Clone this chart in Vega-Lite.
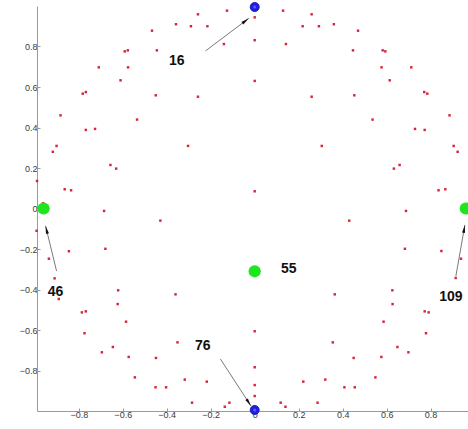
{
  "$schema": "https://vega.github.io/schema/vega-lite/v6.json",
  "width": 431,
  "height": 405,
  "autosize": "none",
  "padding": {"left": 37, "top": 6, "right": 0, "bottom": 18},
  "background": "white",
  "config": {
    "view": {"stroke": null},
    "axis": {
      "grid": false,
      "domainColor": "#9a9a9a",
      "tickColor": "#9a9a9a",
      "tickSize": -3,
      "labelFont": "Liberation Sans",
      "labelFontSize": 9,
      "labelColor": "#3a3a3a",
      "format": "~g",
      "title": null
    }
  },
  "datasets": {
    "nodes": [
      {"x": -0.126, "y": 0.977, "kind": "node"},
      {"x": -0.258, "y": 0.959, "kind": "node"},
      {"x": -0.358, "y": 0.910, "kind": "node"},
      {"x": -0.290, "y": 0.900, "kind": "node"},
      {"x": -0.215, "y": 0.900, "kind": "node"},
      {"x": -0.467, "y": 0.878, "kind": "node"},
      {"x": -0.140, "y": 0.812, "kind": "node"},
      {"x": -0.445, "y": 0.781, "kind": "node"},
      {"x": -0.591, "y": 0.776, "kind": "node"},
      {"x": -0.577, "y": 0.781, "kind": "node"},
      {"x": -0.709, "y": 0.697, "kind": "node"},
      {"x": -0.576, "y": 0.697, "kind": "node"},
      {"x": -0.610, "y": 0.633, "kind": "node"},
      {"x": -0.782, "y": 0.567, "kind": "node"},
      {"x": -0.768, "y": 0.575, "kind": "node"},
      {"x": -0.450, "y": 0.559, "kind": "node"},
      {"x": -0.258, "y": 0.552, "kind": "node"},
      {"x": -0.883, "y": 0.460, "kind": "node"},
      {"x": -0.535, "y": 0.439, "kind": "node"},
      {"x": -0.768, "y": 0.388, "kind": "node"},
      {"x": -0.726, "y": 0.393, "kind": "node"},
      {"x": -0.901, "y": 0.309, "kind": "node"},
      {"x": -0.918, "y": 0.280, "kind": "node"},
      {"x": -0.303, "y": 0.309, "kind": "node"},
      {"x": -0.990, "y": 0.136, "kind": "node"},
      {"x": -0.656, "y": 0.215, "kind": "node"},
      {"x": -0.630, "y": 0.197, "kind": "node"},
      {"x": -0.864, "y": 0.095, "kind": "node"},
      {"x": -0.835, "y": 0.090, "kind": "node"},
      {"x": -0.685, "y": -0.012, "kind": "node"},
      {"x": -0.962, "y": 0.026, "kind": "node"},
      {"x": 0.000, "y": 0.944, "kind": "node"},
      {"x": 0.129, "y": 0.977, "kind": "node"},
      {"x": 0.259, "y": 0.959, "kind": "node"},
      {"x": 0.218, "y": 0.900, "kind": "node"},
      {"x": 0.292, "y": 0.900, "kind": "node"},
      {"x": 0.360, "y": 0.910, "kind": "node"},
      {"x": 0.470, "y": 0.878, "kind": "node"},
      {"x": 0.000, "y": 0.831, "kind": "node"},
      {"x": 0.142, "y": 0.812, "kind": "node"},
      {"x": 0.447, "y": 0.781, "kind": "node"},
      {"x": 0.582, "y": 0.781, "kind": "node"},
      {"x": 0.594, "y": 0.776, "kind": "node"},
      {"x": 0.577, "y": 0.697, "kind": "node"},
      {"x": 0.712, "y": 0.697, "kind": "node"},
      {"x": 0.614, "y": 0.633, "kind": "node"},
      {"x": 0.000, "y": 0.630, "kind": "node"},
      {"x": 0.771, "y": 0.575, "kind": "node"},
      {"x": 0.785, "y": 0.567, "kind": "node"},
      {"x": 0.259, "y": 0.552, "kind": "node"},
      {"x": 0.453, "y": 0.559, "kind": "node"},
      {"x": 0.886, "y": 0.460, "kind": "node"},
      {"x": 0.536, "y": 0.439, "kind": "node"},
      {"x": 0.729, "y": 0.393, "kind": "node"},
      {"x": 0.773, "y": 0.388, "kind": "node"},
      {"x": 0.305, "y": 0.309, "kind": "node"},
      {"x": 0.905, "y": 0.309, "kind": "node"},
      {"x": 0.923, "y": 0.280, "kind": "node"},
      {"x": 0.659, "y": 0.215, "kind": "node"},
      {"x": 0.633, "y": 0.197, "kind": "node"},
      {"x": 0.000, "y": 0.085, "kind": "node"},
      {"x": 0.836, "y": 0.090, "kind": "node"},
      {"x": 0.867, "y": 0.095, "kind": "node"},
      {"x": 0.688, "y": -0.012, "kind": "node"},
      {"x": -0.992, "y": -0.110, "kind": "node"},
      {"x": -0.429, "y": -0.060, "kind": "node"},
      {"x": -0.845, "y": -0.211, "kind": "node"},
      {"x": -0.679, "y": -0.199, "kind": "node"},
      {"x": -0.936, "y": -0.248, "kind": "node"},
      {"x": -0.910, "y": -0.345, "kind": "node"},
      {"x": -0.891, "y": -0.447, "kind": "node"},
      {"x": -0.621, "y": -0.404, "kind": "node"},
      {"x": -0.360, "y": -0.424, "kind": "node"},
      {"x": -0.623, "y": -0.472, "kind": "node"},
      {"x": -0.786, "y": -0.513, "kind": "node"},
      {"x": -0.768, "y": -0.508, "kind": "node"},
      {"x": -0.585, "y": -0.559, "kind": "node"},
      {"x": -0.774, "y": -0.616, "kind": "node"},
      {"x": -0.351, "y": -0.661, "kind": "node"},
      {"x": -0.695, "y": -0.710, "kind": "node"},
      {"x": -0.645, "y": -0.684, "kind": "node"},
      {"x": -0.573, "y": -0.733, "kind": "node"},
      {"x": -0.449, "y": -0.738, "kind": "node"},
      {"x": -0.545, "y": -0.834, "kind": "node"},
      {"x": -0.318, "y": -0.845, "kind": "node"},
      {"x": -0.218, "y": -0.855, "kind": "node"},
      {"x": -0.451, "y": -0.883, "kind": "node"},
      {"x": -0.403, "y": -0.883, "kind": "node"},
      {"x": -0.285, "y": -0.959, "kind": "node"},
      {"x": -0.136, "y": -0.979, "kind": "node"},
      {"x": -0.115, "y": -0.959, "kind": "node"},
      {"x": 0.430, "y": -0.060, "kind": "node"},
      {"x": 0.683, "y": -0.199, "kind": "node"},
      {"x": 0.849, "y": -0.210, "kind": "node"},
      {"x": 0.938, "y": -0.248, "kind": "node"},
      {"x": 0.914, "y": -0.343, "kind": "node"},
      {"x": 0.364, "y": -0.424, "kind": "node"},
      {"x": 0.626, "y": -0.404, "kind": "node"},
      {"x": 0.627, "y": -0.472, "kind": "node"},
      {"x": 0.773, "y": -0.508, "kind": "node"},
      {"x": 0.791, "y": -0.513, "kind": "node"},
      {"x": 0.586, "y": -0.559, "kind": "node"},
      {"x": 0.000, "y": -0.606, "kind": "node"},
      {"x": 0.779, "y": -0.616, "kind": "node"},
      {"x": 0.355, "y": -0.661, "kind": "node"},
      {"x": 0.649, "y": -0.684, "kind": "node"},
      {"x": 0.699, "y": -0.710, "kind": "node"},
      {"x": 0.576, "y": -0.733, "kind": "node"},
      {"x": 0.450, "y": -0.738, "kind": "node"},
      {"x": 0.000, "y": -0.784, "kind": "node"},
      {"x": 0.549, "y": -0.834, "kind": "node"},
      {"x": 0.321, "y": -0.845, "kind": "node"},
      {"x": 0.221, "y": -0.855, "kind": "node"},
      {"x": 0.408, "y": -0.883, "kind": "node"},
      {"x": 0.455, "y": -0.883, "kind": "node"},
      {"x": 0.000, "y": -0.872, "kind": "node"},
      {"x": 0.000, "y": -0.926, "kind": "node"},
      {"x": 0.118, "y": -0.959, "kind": "node"},
      {"x": 0.140, "y": -0.979, "kind": "node"},
      {"x": 0.286, "y": -0.959, "kind": "node"},
      {"x": 0.000, "y": 0.995, "kind": "pole"},
      {"x": 0.000, "y": -0.995, "kind": "pole"},
      {"x": -0.960, "y": 0.000, "kind": "source"},
      {"x": 0.960, "y": 0.000, "kind": "source"},
      {"x": 0.000, "y": -0.310, "kind": "source"}
    ],
    "labels": [
      {"id": "16", "tx": -0.354, "ty": 0.730, "x": -0.224, "y": 0.778, "x2": -0.027, "y2": 0.939},
      {"id": "46", "tx": -0.906, "ty": -0.414, "x": -0.901, "y": -0.309, "x2": -0.951, "y2": -0.086},
      {"id": "55", "tx": 0.155, "ty": -0.300},
      {"id": "76", "tx": -0.236, "ty": -0.678, "x": -0.156, "y": -0.743, "x2": -0.017, "y2": -0.975},
      {"id": "109", "tx": 0.892, "ty": -0.436, "x": 0.915, "y": -0.333, "x2": 0.956, "y2": -0.081}
    ]
  },
  "layer": [
    {
      "data": {"name": "nodes"},
      "transform": [{"filter": "datum.kind === 'node'"}],
      "mark": {"type": "point", "filled": true, "shape": "square", "size": 6, "color": "#d8243a", "opacity": 1},
      "encoding": {
        "x": {
          "field": "x", "type": "quantitative",
          "scale": {"domain": [-0.99, 0.97], "nice": false, "zero": false},
          "axis": {"values": [-0.8, -0.6, -0.4, -0.2, 0, 0.2, 0.4, 0.6, 0.8], "labelPadding": 2, "labelFlush": false}
        },
        "y": {
          "field": "y", "type": "quantitative",
          "scale": {"domain": [-1, 1], "nice": false, "zero": false},
          "axis": {"values": [-0.8, -0.6, -0.4, -0.2, 0, 0.2, 0.4, 0.6, 0.8], "labelPadding": 3, "labelFlush": false}
        }
      }
    },
    {
      "data": {"name": "nodes"},
      "transform": [{"filter": "datum.kind === 'pole'"}],
      "mark": {"type": "point", "filled": true, "size": 80, "color": "#1f1fe0", "stroke": "#1a1ab8", "strokeWidth": 1, "opacity": 1},
      "encoding": {
        "x": {"field": "x", "type": "quantitative"},
        "y": {"field": "y", "type": "quantitative"}
      }
    },
    {
      "data": {"name": "nodes"},
      "transform": [{"filter": "datum.kind === 'pole'"}],
      "mark": {"type": "point", "filled": true, "size": 10, "color": "#5a5af0", "opacity": 1},
      "encoding": {
        "x": {"field": "x", "type": "quantitative"},
        "y": {"field": "y", "type": "quantitative"}
      }
    },
    {
      "data": {"name": "nodes"},
      "transform": [{"filter": "datum.kind === 'source'"}],
      "mark": {"type": "point", "filled": true, "size": 150, "color": "#1ee61e", "opacity": 1},
      "encoding": {
        "x": {"field": "x", "type": "quantitative"},
        "y": {"field": "y", "type": "quantitative"}
      }
    },
    {
      "data": {"name": "labels"},
      "transform": [{"filter": "isValid(datum.x2)"}],
      "mark": {"type": "rule", "color": "#7a7a7a", "strokeWidth": 1},
      "encoding": {
        "x": {"field": "x", "type": "quantitative"},
        "y": {"field": "y", "type": "quantitative"},
        "x2": {"field": "x2"},
        "y2": {"field": "y2"}
      }
    },
    {
      "data": {"name": "labels"},
      "transform": [
        {"filter": "isValid(datum.x2)"},
        {"calculate": "atan2((datum.x2 - datum.x) * 220, (datum.y2 - datum.y) * 202.5) * 180 / PI", "as": "heading"}
      ],
      "mark": {"type": "point", "filled": true, "shape": "M0,0L-0.38,2L0.38,2Z", "size": 64, "color": "#111111", "opacity": 1},
      "encoding": {
        "x": {"field": "x2", "type": "quantitative"},
        "y": {"field": "y2", "type": "quantitative"},
        "angle": {"field": "heading", "type": "quantitative", "scale": null}
      }
    },
    {
      "data": {"name": "labels"},
      "mark": {"type": "text", "font": "Liberation Sans", "fontWeight": "bold", "fontSize": 14, "color": "#111111", "align": "center", "baseline": "middle"},
      "encoding": {
        "x": {"field": "tx", "type": "quantitative"},
        "y": {"field": "ty", "type": "quantitative"},
        "text": {"field": "id"}
      }
    }
  ]
}
